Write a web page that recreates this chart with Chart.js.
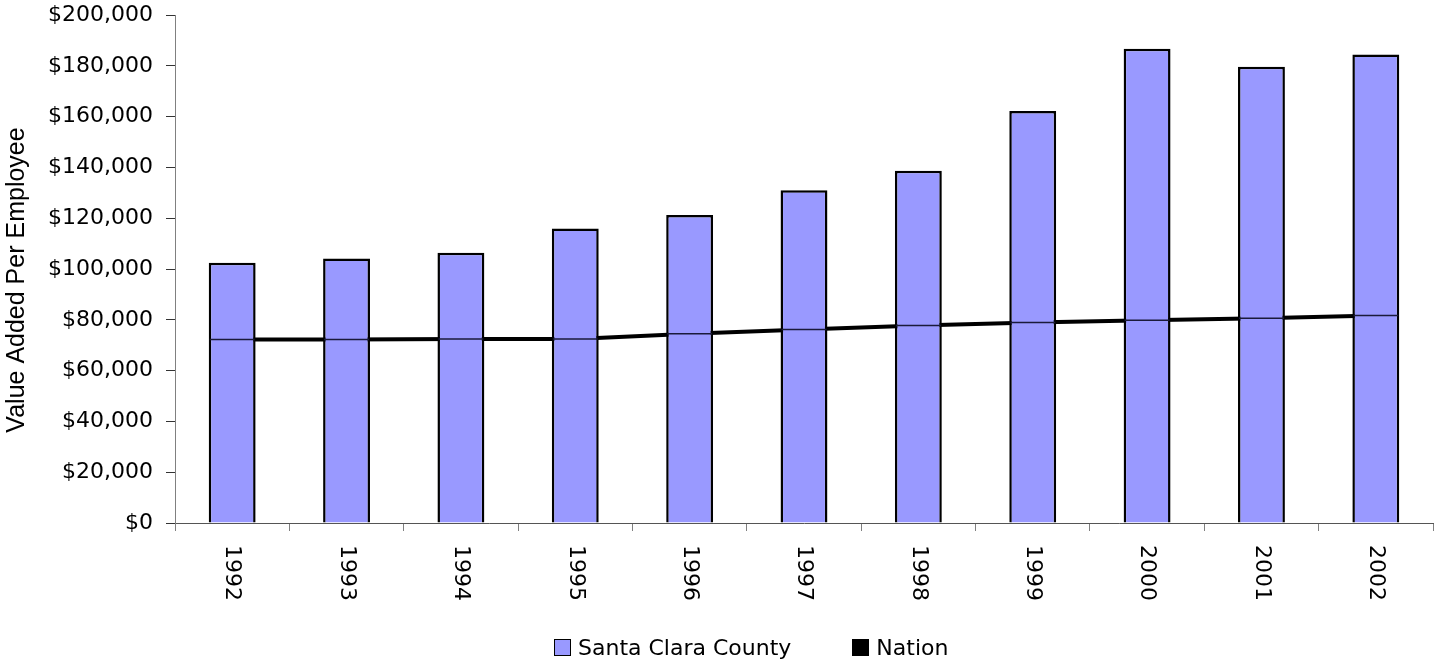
<!DOCTYPE html>
<html>
<head>
<meta charset="utf-8">
<script src="https://cdn.jsdelivr.net/npm/chart.js@4.4.0/dist/chart.umd.min.js"></script>
<style>
  body { margin: 0; background: #fff; }
  #wrap { position: relative; width: 1435px; height: 664px; }
  #legend {
    position: absolute; left: 554px; top: 636px; height: 22px;
    display: flex; align-items: center;
    font: 22px "DejaVu Sans", sans-serif; color: #000;
  }
  .item { display: flex; align-items: center; }
  .box { width: 17px; height: 17px; box-sizing: border-box; border: 1px solid #000; margin-right: 7px; }
</style>
</head>
<body>
<div id="wrap">
  <canvas id="chart" width="1435" height="664"></canvas>
  <div id="legend"></div>
</div>
<script>
// data
const years = ["1992", "1993", "1994", "1995", "1996", "1997", "1998", "1999", "2000", "2001", "2002"];
const santaClara = [102500, 104100, 106400, 115900, 121300, 131000, 138700, 162200, 186700, 179600, 184400];
const nation = [72200, 72200, 72400, 72400, 74500, 76200, 77800, 78900, 79800, 80600, 81700];
const yTicksMax = 200000;
const yTicksStep = 20000;

const tickFont = { family: "DejaVu Sans", size: 22 };

// thin marks where the nation line passes behind each bar
const barMarks = {
  id: "barMarks",
  afterDatasetsDraw(chart) {
    const meta = chart.getDatasetMeta(0);
    const y = chart.scales.y;
    const ctx = chart.ctx;
    ctx.save();
    ctx.strokeStyle = "#1a1a3a";
    ctx.lineWidth = 1.5;
    meta.data.forEach((bar, i) => {
      const py = y.getPixelForValue(nation[i]);
      ctx.beginPath();
      ctx.moveTo(bar.x - bar.width / 2 + 1, py);
      ctx.lineTo(bar.x + bar.width / 2 - 1, py);
      ctx.stroke();
    });
    ctx.restore();
  }
};

// year labels read top-to-bottom, plus y title
const labelsPlugin = {
  id: "labelsPlugin",
  afterDraw(chart) {
    const ctx = chart.ctx;
    const x = chart.scales.x;
    ctx.save();
    ctx.fillStyle = "#000";
    ctx.font = "22px 'DejaVu Sans'";
    ctx.textAlign = "left";
    ctx.textBaseline = "middle";
    years.forEach((yr, i) => {
      ctx.save();
      ctx.translate(x.getPixelForValue(i), x.top + 22);
      ctx.rotate(Math.PI / 2);
      ctx.fillText(yr, 0, 0);
      ctx.restore();
    });
    ctx.font = "25px 'Liberation Sans'";
    ctx.textAlign = "center";
    ctx.translate(17, 280);
    ctx.rotate(-Math.PI / 2);
    ctx.fillText("Value Added Per Employee", 0, 0);
    ctx.restore();
  }
};

const chart = new Chart(document.getElementById("chart").getContext("2d"), {
  type: "bar",
  data: {
    labels: years,
    datasets: [{
      label: "Santa Clara County",
      data: santaClara,
      backgroundColor: "#9999FF",
      borderColor: "#000",
      borderWidth: 2.5,
      barPercentage: 0.41,
      categoryPercentage: 1,
      order: 1
    }, {
      type: "line",
      label: "Nation",
      data: nation,
      borderColor: "#000",
      backgroundColor: "#000",
      borderWidth: 4,
      pointRadius: 0,
      tension: 0,
      order: 2
    }]
  },
  options: {
    responsive: false,
    animation: false,
    layout: { padding: { left: 0, right: 2, top: 15, bottom: 0 } },
    plugins: { legend: { display: false }, tooltip: { enabled: false } },
    scales: {
      x: {
        grid: { drawOnChartArea: false, drawTicks: true, tickLength: 8, color: "#808080", offset: true },
        border: { color: "#555" },
        ticks: { display: false },
        afterFit(scale) { scale.height = 141; }
      },
      y: {
        min: 0,
        max: yTicksMax,
        grid: { drawOnChartArea: false, tickLength: 9, color: "#333" },
        border: { color: "#808080" },
        ticks: {
          stepSize: yTicksStep,
          padding: 13,
          color: "#000",
          font: tickFont,
          callback: v => "$" + v.toLocaleString("en-US")
        },
        afterFit(scale) {
          scale.width = 175;
          scale.paddingTop = 0;
          scale.paddingBottom = 0;
        }
      }
    }
  },
  plugins: [barMarks, labelsPlugin]
});

// legend
const legend = document.getElementById("legend");
chart.data.datasets.forEach((ds, i) => {
  const item = document.createElement("div");
  item.className = "item";
  if (i > 0) item.style.marginLeft = "61px";
  const box = document.createElement("div");
  box.className = "box";
  box.style.background = ds.backgroundColor;
  const txt = document.createElement("span");
  txt.textContent = ds.label;
  item.appendChild(box);
  item.appendChild(txt);
  legend.appendChild(item);
});
</script>
</body>
</html>
